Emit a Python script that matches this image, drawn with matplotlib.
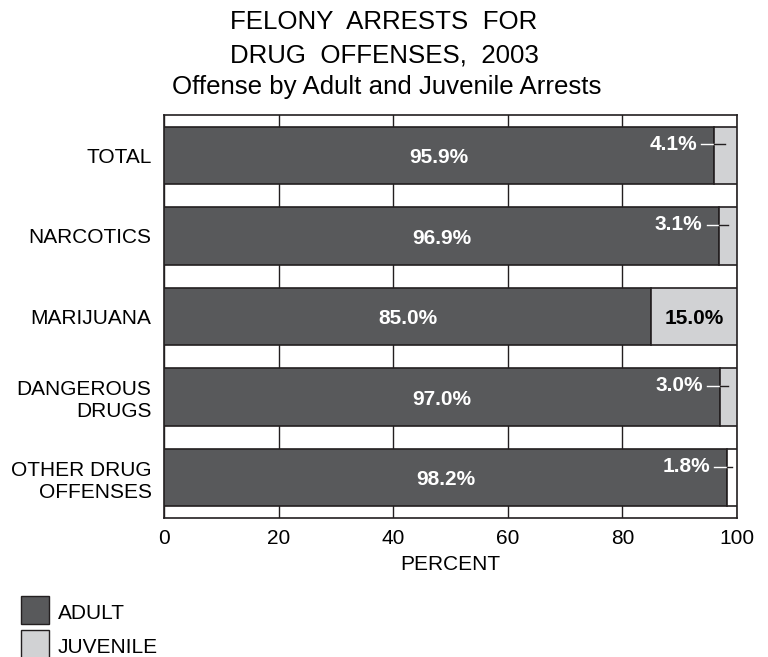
import numpy as np
import matplotlib.pyplot as plt
from matplotlib.patches import Rectangle

plt.rcParams['font.family'] = ['Liberation Sans', 'DejaVu Sans']

categories = ['TOTAL', 'NARCOTICS', 'MARIJUANA', 'DANGEROUS\nDRUGS', 'OTHER DRUG\nOFFENSES']
adult = [95.9, 96.9, 85.0, 97.0, 98.2]
juvenile = [4.1, 3.1, 15.0, 3.0, 1.8]
juvenile_colors = ['#d1d2d4', '#d1d2d4', '#d1d2d4', '#d1d2d4', '#ffffff']

dark = '#58595b'
light = '#d1d2d4'
edge = '#231f20'

fig = plt.figure(figsize=(7.68, 6.57), dpi=100)
# axes box: x 164..737 px, y 115..518 px
ax = fig.add_axes([164 / 768, 1 - 518 / 657, 573 / 768, 403 / 657])

y = np.arange(len(categories))
h = 0.71
ax.barh(y, adult, height=h, color=dark, edgecolor=edge, linewidth=1.2, zorder=3)
ax.barh(y, juvenile, left=adult, height=h, color=juvenile_colors, edgecolor=edge, linewidth=1.2, zorder=3)

ax.set_xlim(0, 100)
ax.set_ylim(4.5, -0.5)
ax.set_yticks(y)
ax.set_yticklabels(categories, fontsize=15, ha='right', multialignment='right')
ax.set_xticks([0, 20, 40, 60, 80, 100])
ax.tick_params(axis='x', labelsize=15, length=0, pad=8)
ax.tick_params(axis='y', length=0, pad=9)
ax.grid(axis='x', color=edge, linewidth=1, zorder=0)
ax.set_xlabel('PERCENT', fontsize=15, labelpad=5)
for s in ax.spines.values():
    s.set_color(edge)
    s.set_linewidth(1.2)

for i, (a, j) in enumerate(zip(adult, juvenile)):
    ax.text(a / 2, i + 0.095, f'{a:.1f}%', color='white', fontsize=15, fontweight='bold',
            ha='center', va='baseline', zorder=5)
    if j >= 10:
        ax.text(a + j / 2, i + 0.095, f'{j:.1f}%', color='black', fontsize=15, fontweight='bold',
                ha='center', va='baseline', zorder=5)
    else:
        tx = a - 2.9
        ax.text(tx, i - 0.07, f'{j:.1f}%', color='white', fontsize=15, fontweight='bold',
                ha='right', va='baseline', zorder=5)
        ly = i - 0.135
        ax.plot([tx + 0.7, a], [ly, ly], color='white', lw=1, zorder=5)
        ax.plot([a, a + j / 2], [ly, ly], color=edge, lw=1, zorder=5)

fig.text(0.5, 1 - 29 / 657, 'FELONY  ARRESTS  FOR', ha='center', va='baseline', fontsize=18.6)
fig.text(0.5, 1 - 63 / 657, 'DRUG  OFFENSES,  2003', ha='center', va='baseline', fontsize=18.6)
fig.text(0.504, 1 - 94 / 657, 'Offense by Adult and Juvenile Arrests', ha='center', va='baseline', fontsize=18.6)

# legend
legend_items = [('ADULT', dark), ('JUVENILE', light)]
for k, (lab, col) in enumerate(legend_items):
    yb = 1 - (624 + k * 34) / 657
    fig.patches.append(Rectangle((21 / 768, yb), 28 / 768, 28 / 657, transform=fig.transFigure,
                                 facecolor=col, edgecolor=edge, linewidth=1))
    fig.text(58 / 768, 1 - (619 + k * 34) / 657, lab, ha='left', va='baseline', fontsize=15)

fig.savefig('out.png', dpi=100)
